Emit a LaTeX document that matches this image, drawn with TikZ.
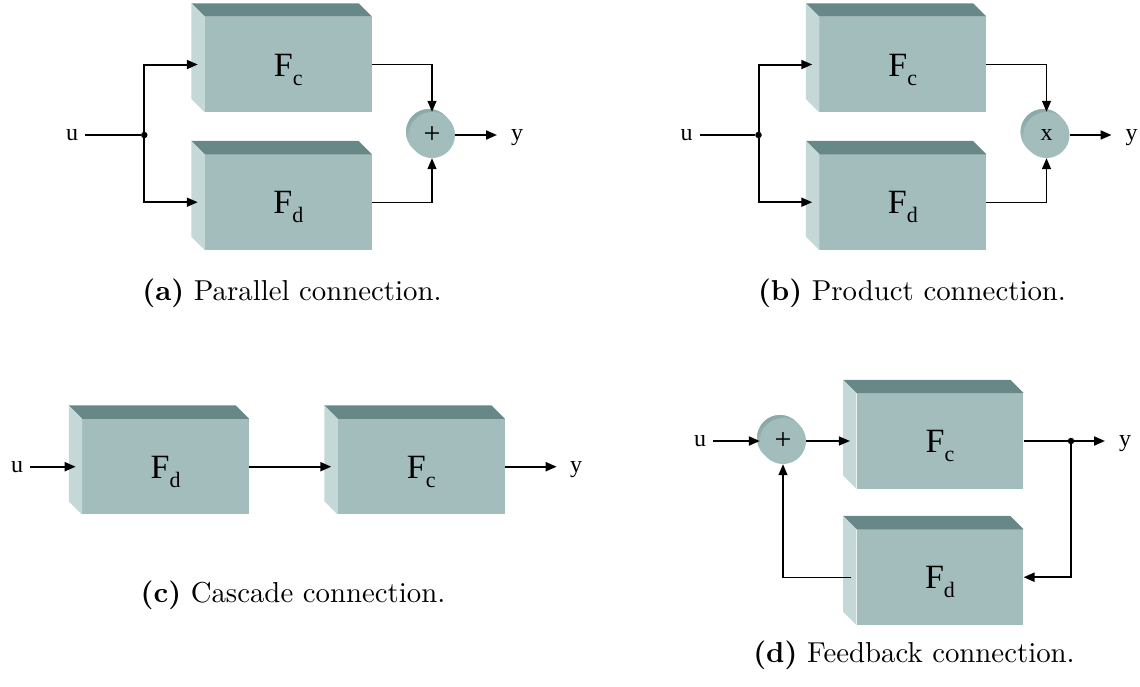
\documentclass[tikz,border=0pt]{standalone}
\usepackage{fontspec}
\usepackage{graphicx}
\usetikzlibrary{arrows.meta,shadows,calc}
\newfontfamily\tms{Liberation Serif}
\definecolor{frontc}{HTML}{A3BDBD}
\definecolor{topc}{HTML}{688787}
\definecolor{leftc}{HTML}{C4D8D8}
\definecolor{rimd}{HTML}{8AA6A6}
\newcommand\Fsub[1]{{\tms\fontsize{34}{36}\selectfont F\raisebox{-9pt}{\fontsize{22}{24}\selectfont #1}}}
\newcommand\mkbox[4]{%
  \node[frontbox] (#1) at (#2,#3) {#4};
  \fill[topc] (#1.north west) -- ++(-13.3,-13.3) -- ($(#1.north east)+(-13.3,-13.3)$) -- (#1.north east) -- cycle;
  \fill[leftc] (#1.north west) -- ++(-13.3,-13.3) -- ($(#1.south west)+(-13.3,-13.3)$) -- (#1.south west) -- cycle;
}
\begin{document}
\begin{tikzpicture}[x=1pt,y=-1pt,
  frontbox/.style={rectangle, fill=frontc, minimum width=166.7pt, minimum height=95.5pt, inner sep=0pt, text height=32pt, text depth=9pt},
  sumnode/.style={circle, fill=frontc, minimum size=46pt, inner sep=0pt, copy shadow={shadow xshift=-3pt, shadow yshift=3pt, top color=rimd, bottom color=leftc, shading angle=30, draw=none}, font=\tms\fontsize{30}{32}\selectfont},
  io/.style={inner sep=0pt, inner xsep=7pt, text height=11pt, text depth=0pt, font=\tms\fontsize{24}{26}\selectfont},
  thk/.style={line width=2pt},
  thn/.style={line width=1.3pt},
  arr/.style={-{Triangle[length=11pt,width=9pt]}},
  captxt/.style={inner sep=0pt},
  dot/.style={circle, fill=black, inner sep=0pt, minimum size=6.5pt}]
\useasboundingbox (0,0) rectangle (1140,686);

% ---------- (a) parallel ----------
\mkbox{a1c}{288.3}{64.5}{\Fsub{c}}
\mkbox{a1d}{288.3}{202.2}{\Fsub{d}}
\node[sumnode] (s1) at (432,135) {+};
\node[io] (u1) at (72,135) {u};
\node[dot] (j1) at (144.3,135) {};
\coordinate (o1) at (497,135);
\node[io] (y1) at (517,135) {y};
\draw[thk] (u1) -- (j1);
\draw[thk,arr] (j1) |- ([xshift=-7pt]a1c.west);
\draw[thk,arr] (j1) |- ([xshift=-7pt]a1d.west);
\draw[thn,arr] (a1c.east) -| (s1);
\draw[thn,arr] (a1d.east) -| (s1);
\draw[thk,arr] (s1) -- (o1);

% ---------- (b) product ----------
\mkbox{b1c}{902.8}{64.5}{\Fsub{c}}
\mkbox{b1d}{902.8}{202.2}{\Fsub{d}}
\node[sumnode,font=\tms\fontsize{24}{26}\selectfont] (s2) at (1046.5,135) {x};
\node[io] (u2) at (686.7,135) {u};
\node[dot] (j2) at (758.5,135) {};
\coordinate (o2) at (1111.5,135);
\node[io] (y2) at (1131.5,135) {y};
\draw[thk] (u2) -- (j2);
\draw[thk,arr] (j2) |- ([xshift=-7pt]b1c.west);
\draw[thk,arr] (j2) |- ([xshift=-7pt]b1d.west);
\draw[thn,arr] (b1c.east) -| (s2);
\draw[thn,arr] (b1d.east) -| (s2);
\draw[thk,arr] (s2) -- (o2);

% ---------- (c) cascade ----------
\mkbox{c1d}{165.7}{466.7}{\Fsub{d}}
\mkbox{c2c}{421.3}{466.7}{\Fsub{c}}
\node[io] (u3) at (17,466.7) {u};
\coordinate (o3) at (556.7,466.7);
\node[io] (y3) at (576,466.7) {y};
\draw[thk,arr] (u3) -- ([xshift=-6.5pt]c1d.west);
\draw[thk,arr] (c1d.east) -- ([xshift=-6.5pt]c2c.west);
\draw[thk,arr] (c2c.east) -- (o3);

% ---------- (d) feedback ----------
\mkbox{d1c}{940}{441}{\Fsub{c}}
\mkbox{d2d}{940}{577.2}{\Fsub{d}}
\node[sumnode] (s4) at (783,441) {+};
\node[io] (u4) at (700,441) {u};
\node[dot] (j4) at (1071,441) {};
\coordinate (o4) at (1105,441);
\node[io] (y4) at (1125,441) {y};
\draw[thk,arr] (u4) -- (s4);
\draw[thn,arr] (s4) -- ([xshift=-6.5pt]d1c.west);
\draw[thk] (d1c.east) -- (j4);
\draw[thk,arr] (j4) -- (o4);
\draw[thk,arr] (j4) |- (d2d.east);
\draw[thn,arr] ([xshift=-5pt]d2d.west) -| (s4);

% ---------- captions ----------
\node[captxt] (capa) at (292,293) {\scalebox{2.88}{\textbf{(a)} Parallel connection.}};
\node[captxt] (capb) at (912,293) {\scalebox{2.88}{\textbf{(b)} Product connection.}};
\node[captxt] (capc) at (293,595) {\scalebox{2.88}{\textbf{(c)} Cascade connection.}};
\node[captxt] (capd) at (914,655) {\scalebox{2.88}{\textbf{(d)} Feedback connection.}};
\end{tikzpicture}
\end{document}
